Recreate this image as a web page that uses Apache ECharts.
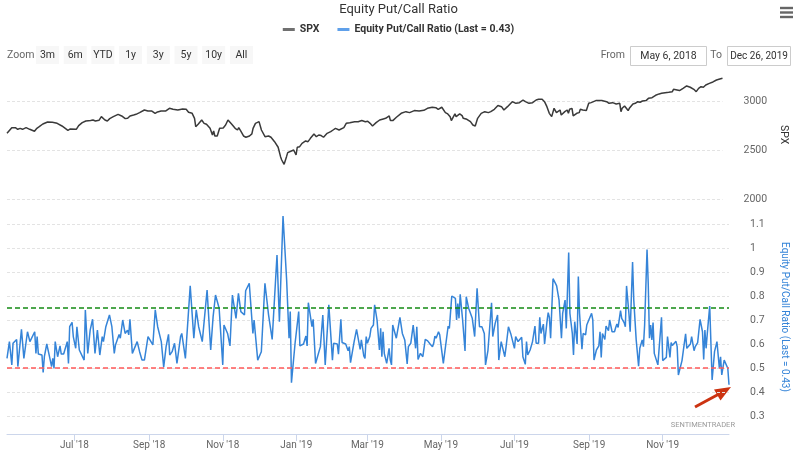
<!DOCTYPE html>
<html><head><meta charset="utf-8">
<script src="https://cdn.jsdelivr.net/npm/echarts@6/dist/echarts.min.js"></script>
<style>html,body{margin:0;padding:0;background:#fff}#c{width:797px;height:455px}</style>
</head><body><div id="c"></div>
<script>
// ---------- data (dates expressed as days after startDate) ----------
const startDate = '2018-05-06';
const endDate = '2019-12-26';
const monthNames = ['Jan','Feb','Mar','Apr','May','Jun','Jul','Aug','Sep','Oct','Nov','Dec'];

const spxDays = [0,4,7,9,11,13,16,19,23,25,27,30,34,38,42,46,51,53,58,60,63,66,70,72,74,77,79,82,84,86,89,93,96,99,101,103,106,108,111,115,118,121,124,126,129,130,133,136,139,143,147,150,152,155,157,158,160,161,163,165,167,170,172,173,174,176,178,181,183,185,188,191,193,194,196,198,200,203,205,206,208,211,213,214,216,219,221,224,227,229,230,232,234,235,238,240,242,243,245,247,250,252,254,257,259,261,263,265,268,271,273,275,278,282,284,287,291,294,297,300,302,304,306,309,312,315,317,320,321,323,324,326,330,334,337,341,345,349,352,356,359,360,361,364,365,367,369,371,372,375,376,379,381,382,385,388,390,392,394,397,400,403,405,408,411,414,416,419,423,426,429,432,434,437,440,443,445,448,450,452,454,456,458,460,463,464,465,467,469,470,471,473,474,477,479,480,482,485,487,489,493,498,502,504,507,510,511,513,514,515,517,518,520,521,524,526,528,530,532,535,537,540,543,546,548,551,554,557,558,561,563,566,569,572,575,577,579,581,583,585,588,591,594,596,599];
const spxValues = [2675,2733,2733,2716,2726,2716,2733,2716,2696,2726,2743,2770,2791,2788,2777,2750,2706,2720,2716,2754,2784,2801,2805,2811,2801,2808,2845,2811,2801,2825,2845,2869,2852,2825,2828,2852,2862,2869,2886,2913,2903,2903,2879,2893,2903,2890,2903,2930,2920,2913,2924,2920,2890,2879,2828,2743,2767,2760,2811,2777,2767,2726,2658,2699,2648,2648,2726,2730,2760,2811,2770,2726,2709,2733,2692,2648,2635,2648,2669,2726,2777,2794,2709,2726,2641,2648,2635,2590,2533,2437,2403,2359,2437,2478,2495,2505,2454,2533,2539,2573,2597,2590,2624,2669,2641,2658,2652,2635,2675,2692,2709,2726,2709,2733,2777,2784,2794,2794,2805,2794,2798,2777,2750,2784,2811,2822,2828,2852,2805,2805,2818,2839,2879,2896,2886,2907,2903,2910,2930,2941,2937,2947,2920,2941,2930,2886,2873,2845,2805,2873,2845,2873,2856,2828,2818,2794,2760,2750,2828,2879,2896,2886,2896,2920,2958,2947,2913,2947,2998,2981,2988,3015,2998,2981,2988,3015,3022,3022,2998,2947,2879,2845,2930,2886,2913,2862,2845,2896,2913,2879,2920,2930,2852,2879,2886,2920,2913,2907,2981,2988,3009,3009,2998,2981,2988,2975,2964,2981,2896,2930,2954,2947,2907,2930,2975,2981,2998,2992,3005,3009,3032,3039,3063,3077,3083,3090,3094,3100,3124,3117,3111,3134,3158,3145,3124,3100,3134,3151,3145,3168,3185,3199,3219,3226,3236];

const ratioDays = [0,2,4,5,8,9,12,14,17,19,23,24,25,26,29,30,31,33,35,37,38,39,40,42,44,45,47,50,51,52,54,55,57,58,60,64,65,67,69,71,73,75,77,79,80,82,85,87,89,90,93,94,96,98,100,101,102,104,105,108,110,112,114,117,121,123,125,128,130,132,134,135,137,139,141,144,145,148,152,155,157,159,162,166,169,171,173,176,179,180,183,185,187,190,192,194,197,198,201,204,205,208,211,214,217,220,224,226,229,232,234,235,236,239,242,243,246,248,249,250,253,254,256,260,262,264,267,270,271,274,275,277,278,281,283,284,285,288,290,293,294,296,297,298,299,301,302,304,305,307,309,310,311,312,313,315,317,318,319,320,323,326,328,330,332,333,335,337,339,340,341,343,345,347,349,351,353,354,355,356,358,359,360,362,366,367,369,370,372,373,374,375,376,378,380,381,383,386,388,390,392,394,396,397,399,402,403,405,407,408,410,413,414,416,418,421,422,424,425,427,428,430,431,432,434,436,438,439,441,442,443,445,446,448,449,450,451,453,455,456,458,459,460,461,463,464,466,467,469,470,471,473,474,475,477,478,480,481,485,486,487,489,491,492,493,494,496,497,499,500,502,504,505,506,507,509,510,512,513,514,516,517,519,520,522,523,524,525,527,528,529,531,532,533,534,535,536,537,540,543,544,547,548,550,551,552,555,556,557,560,561,563,564,567,568,570,571,573,575,577,578,579,580,581,583,585,587,589,591,592,593,595,596,598,599];
const ratioValues = [0.540,0.610,0.513,0.603,0.619,0.506,0.661,0.540,0.651,0.610,0.651,0.561,0.631,0.558,0.554,0.481,0.547,0.600,0.554,0.506,0.540,0.499,0.610,0.547,0.592,0.558,0.558,0.610,0.519,0.672,0.690,0.631,0.582,0.672,0.575,0.533,0.742,0.561,0.658,0.703,0.561,0.658,0.554,0.631,0.610,0.672,0.721,0.672,0.561,0.596,0.640,0.624,0.700,0.644,0.658,0.638,0.703,0.561,0.554,0.610,0.568,0.533,0.533,0.631,0.596,0.742,0.672,0.610,0.503,0.589,0.640,0.554,0.568,0.603,0.519,0.631,0.644,0.540,0.842,0.624,0.742,0.672,0.610,0.825,0.575,0.714,0.804,0.749,0.513,0.679,0.644,0.592,0.804,0.707,0.811,0.735,0.721,0.822,0.853,0.644,0.700,0.533,0.568,0.853,0.721,0.619,0.971,0.693,1.133,0.867,0.624,0.735,0.439,0.603,0.735,0.592,0.600,0.633,0.592,0.772,0.672,0.703,0.519,0.589,0.721,0.513,0.763,0.533,0.603,0.600,0.558,0.703,0.606,0.600,0.572,0.589,0.522,0.610,0.661,0.578,0.617,0.550,0.540,0.631,0.603,0.631,0.665,0.679,0.763,0.700,0.575,0.665,0.547,0.651,0.561,0.519,0.582,0.533,0.513,0.679,0.624,0.711,0.644,0.617,0.517,0.589,0.603,0.679,0.582,0.672,0.536,0.561,0.547,0.619,0.613,0.600,0.589,0.603,0.633,0.624,0.651,0.638,0.642,0.519,0.675,0.665,0.800,0.797,0.790,0.700,0.769,0.707,0.807,0.700,0.571,0.797,0.749,0.707,0.631,0.832,0.672,0.672,0.644,0.513,0.572,0.772,0.631,0.686,0.721,0.533,0.610,0.547,0.586,0.672,0.642,0.582,0.631,0.610,0.617,0.628,0.547,0.515,0.610,0.554,0.575,0.610,0.675,0.603,0.603,0.711,0.644,0.683,0.600,0.693,0.731,0.711,0.624,0.872,0.853,0.842,0.783,0.783,0.624,0.728,0.783,0.665,0.981,0.728,0.644,0.554,0.693,0.600,0.881,0.728,0.578,0.644,0.638,0.679,0.728,0.700,0.533,0.575,0.592,0.651,0.544,0.644,0.619,0.675,0.656,0.700,0.651,0.651,0.669,0.683,0.669,0.739,0.707,0.689,0.672,0.842,0.725,0.651,0.942,0.783,0.617,0.619,0.508,0.582,0.617,0.589,0.679,0.994,0.850,0.624,0.679,0.617,0.689,0.561,0.513,0.711,0.531,0.544,0.631,0.544,0.606,0.594,0.611,0.589,0.471,0.531,0.568,0.642,0.582,0.600,0.631,0.572,0.589,0.606,0.703,0.651,0.536,0.658,0.582,0.644,0.758,0.450,0.568,0.610,0.499,0.547,0.471,0.533,0.536,0.499,0.430];

const upperThreshold = 0.75;
const lowerThreshold = 0.50;
const zoomButtons = ['3m','6m','YTD','1y','3y','5y','10y','All'];
const fromText = 'May 6, 2018';
const toText = 'Dec 26, 2019';
const spxName = 'SPX';
const ratioName = 'Equity Put/Call Ratio (Last = 0.43)';

// ---------- build ----------
const DAY = 86400000;
const t0 = Date.parse(startDate);
const t1 = Date.parse(endDate);
const spxData = spxDays.map((d, i) => [t0 + d * DAY, spxValues[i]]);
const ratioData = ratioDays.map((d, i) => [t0 + d * DAY, ratioValues[i]]);

const FONT = "Roboto, 'Noto Sans', sans-serif";
const gridLine = { lineStyle: { color: '#e3e3e3', type: [3, 2], width: 1 } };

const graphics = [];
graphics.push({ type: 'text', x: 7, y: 55, style: { text: 'Zoom', fill: '#666', font: '10.5px ' + FONT, verticalAlign: 'middle' } });
zoomButtons.forEach((b, i) => {
  const x = 36 + i * 27.7;
  graphics.push({ type: 'rect', shape: { x: x, y: 46, width: 23, height: 18 }, style: { fill: '#f7f7f7' } });
  graphics.push({ type: 'text', x: x + 11.5, y: 55, style: { text: b, fill: '#333', font: '10.5px ' + FONT, align: 'center', verticalAlign: 'middle' } });
});
graphics.push({ type: 'text', x: 625, y: 55, style: { text: 'From', fill: '#666', font: '10.5px ' + FONT, align: 'right', verticalAlign: 'middle' } });
graphics.push({ type: 'rect', shape: { x: 630.5, y: 46.5, width: 76, height: 19 }, style: { fill: '#fff', stroke: '#ccc', lineWidth: 1 } });
graphics.push({ type: 'text', x: 668.5, y: 56, style: { text: fromText, fill: '#333', font: '10.5px ' + FONT, align: 'center', verticalAlign: 'middle' } });
graphics.push({ type: 'text', x: 722, y: 55, style: { text: 'To', fill: '#666', font: '10.5px ' + FONT, align: 'right', verticalAlign: 'middle' } });
graphics.push({ type: 'rect', shape: { x: 727.5, y: 46.5, width: 63, height: 19 }, style: { fill: '#fff', stroke: '#ccc', lineWidth: 1 } });
graphics.push({ type: 'text', x: 759, y: 56, style: { text: toText, fill: '#333', font: '10px ' + FONT, align: 'center', verticalAlign: 'middle' } });
[8, 12.5, 17].forEach(y => graphics.push({ type: 'line', shape: { x1: 780, y1: y, x2: 793, y2: y }, style: { stroke: '#666', lineWidth: 2.4 } }));
graphics.push({ type: 'text', x: 735, y: 425, style: { text: 'SENTIMENTRADER', fill: '#9a9a9a', font: '7.5px ' + FONT, align: 'right', verticalAlign: 'middle' } });
// red annotation arrow
graphics.push({ type: 'line', shape: { x1: 695, y1: 407, x2: 719, y2: 394 }, style: { stroke: '#cc3311', lineWidth: 3 } });
graphics.push({ type: 'polygon', shape: { points: [[731, 387], [720.5, 400.5], [714, 389.5]] }, style: { fill: '#cc3311' } });

const chart = echarts.init(document.getElementById('c'));
chart.setOption({
  animation: false,
  useUTC: true,
  textStyle: { fontFamily: FONT },
  title: { text: 'Equity Put/Call Ratio', left: 'center', top: 3, padding: 0, textStyle: { fontSize: 13, fontWeight: 'normal', color: '#333', fontFamily: FONT } },
  legend: {
    top: 19, left: 'center', icon: 'rect', itemWidth: 12, itemHeight: 3, itemGap: 18,
    textStyle: { fontSize: 10.5, fontWeight: 'bold', color: '#333', fontFamily: FONT },
    data: [
      { name: spxName, itemStyle: { color: '#707070' } },
      { name: ratioName, itemStyle: { color: '#5fa0ea' } }
    ]
  },
  graphic: graphics,
  grid: [
    { left: 7, right: 62, top: 70, height: 129.5 },
    { left: 7, right: 62, top: 200, bottom: 21 }
  ],
  xAxis: [
    { type: 'time', gridIndex: 0, min: t0, max: t1, show: false },
    {
      type: 'time', gridIndex: 1, min: t0, max: t1, splitNumber: 9,
      axisLine: { lineStyle: { color: '#ccd6eb' } },
      axisTick: { show: true, length: 7, lineStyle: { color: '#ccd6eb' } },
      splitLine: { show: false },
      axisLabel: {
        color: '#666', fontSize: 10, margin: 6, hideOverlap: false,
        formatter: v => { const d = new Date(v); return monthNames[d.getUTCMonth()] + " '" + String(d.getUTCFullYear()).slice(2); }
      }
    }
  ],
  yAxis: [
    {
      type: 'value', gridIndex: 0, position: 'right', min: 2000, max: 3321, interval: 500,
      axisLine: { show: false }, axisTick: { show: false },
      splitLine: Object.assign({ showMaxLine: false }, gridLine),
      axisLabel: { color: '#666', fontSize: 10.5, margin: 21, showMaxLabel: false, padding: [0, 0, 7, 0], formatter: v => String(v) },
      name: spxName, nameLocation: 'middle', nameRotate: -90, nameGap: 50,
      nameTextStyle: { color: '#333', fontSize: 10.5 }
    },
    {
      type: 'value', gridIndex: 1, position: 'right', min: 0.225, max: 1.2, splitNumber: 10,
      axisLine: { show: false }, axisTick: { show: false },
      splitLine: Object.assign({ showMinLine: false, showMaxLine: false }, gridLine),
      axisLabel: { color: '#666', fontSize: 10.5, margin: 21, showMinLabel: false, showMaxLabel: false, padding: [0, 0, 7, 0] },
      name: ratioName, nameLocation: 'middle', nameRotate: -90, nameGap: 50,
      nameTextStyle: { color: '#3584d8', fontSize: 10 }
    }
  ],
  series: [
    {
      name: spxName, type: 'line', xAxisIndex: 0, yAxisIndex: 0, data: spxData,
      showSymbol: false, symbol: 'none', color: '#3a3a3a',
      lineStyle: { color: '#3a3a3a', width: 1.5 }
    },
    {
      name: ratioName, type: 'line', xAxisIndex: 1, yAxisIndex: 1, data: ratioData,
      showSymbol: false, symbol: 'none', color: '#3584d8',
      lineStyle: { color: '#3584d8', width: 1.5 },
      markLine: {
        silent: true, symbol: 'none', label: { show: false },
        data: [
          { yAxis: upperThreshold, lineStyle: { color: '#138a13', type: [5, 3], width: 1.6 } },
          { yAxis: lowerThreshold, lineStyle: { color: '#ff5a5a', type: [5, 3], width: 1.6 } }
        ]
      }
    }
  ]
});
</script>
</body></html>
